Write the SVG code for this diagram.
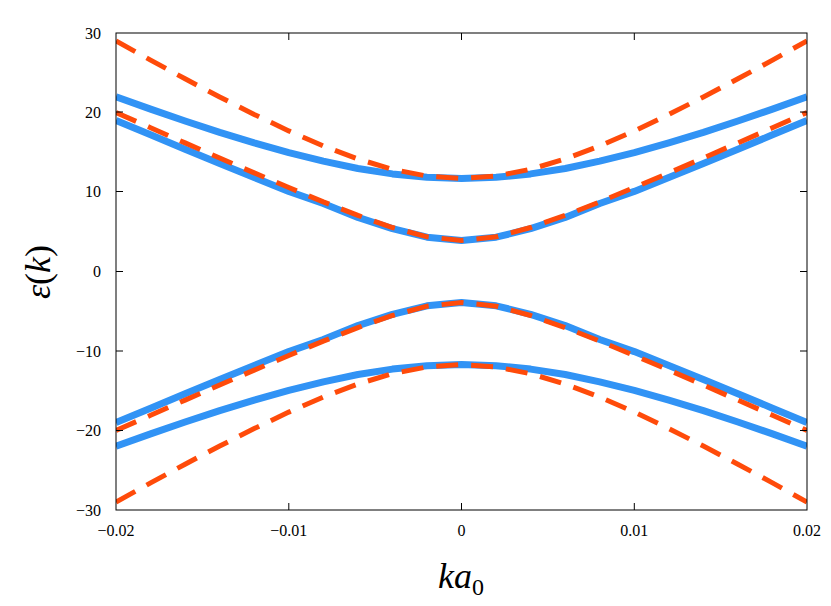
<svg xmlns="http://www.w3.org/2000/svg" width="831" height="606" viewBox="0 0 831 606">
<style>
.tk{font-family:"Liberation Serif",serif;font-size:16px;fill:#000}
.b{fill:none;stroke:#3193f5;stroke-width:7;stroke-linejoin:round}
.r{fill:none;stroke:#ff4b0a;stroke-width:5;stroke-dasharray:22 13}
.ax{stroke:#000;stroke-width:1;fill:none}
</style>
<defs>
<clipPath id="c"><rect x="116" y="33" width="691" height="477"/></clipPath>
<path id="bo" d="M116,96.8 L150.6,109.1 185.1,121 219.7,132.4 254.2,142.9 288.8,152.6 323.3,161.2 357.9,168.5 392.4,173.9 427,177.3 461.5,178.5 496.1,177.3 530.6,173.9 565.2,168.5 599.7,161.2 634.3,152.6 668.8,142.9 703.4,132.4 737.9,121 772.5,109.1 807,96.8"/>
<path id="bi" d="M116,120.4 L150.6,134.8 185.1,149.2 219.7,163.5 254.2,177.5 288.8,191.4 323.3,203.5 357.9,217.4 392.4,228.7 427,237.2 461.5,240.5 496.1,237.2 530.6,228.7 565.2,217.4 599.7,203.5 634.3,191.4 668.8,177.5 703.4,163.5 737.9,149.2 772.5,134.8 807,120.4"/>
<path id="ro" d="M116,40.9 L150.6,60.1 185.1,78.8 219.7,97 254.2,114.4 288.8,130.9 323.3,145.9 357.9,159 392.4,169.3 427,176.1 461.5,178.5 496.1,176.1 530.6,169.3 565.2,159 599.7,145.9 634.3,130.9 668.8,114.4 703.4,97 737.9,78.8 772.5,60.1 807,40.9"/>
<path id="ri" d="M116,112.5 L150.6,127.7 185.1,142.9 219.7,158 254.2,172.9 288.8,187.5 323.3,201.9 357.9,215.4 392.4,227.5 427,236.8 461.5,240.5 496.1,236.8 530.6,227.5 565.2,215.4 599.7,201.9 634.3,187.5 668.8,172.9 703.4,158 737.9,142.9 772.5,127.7 807,112.5"/>
</defs>
<rect width="831" height="606" fill="#fff"/>
<g id="connectors" clip-path="url(#c)">
<use href="#bo" class="b"/><use href="#bi" class="b"/>
<use href="#bo" class="b" transform="translate(0,543) scale(1,-1)"/><use href="#bi" class="b" transform="translate(0,543) scale(1,-1)"/>
<use href="#ro" class="r"/><use href="#ri" class="r"/>
<use href="#ro" class="r" transform="translate(0,543) scale(1,-1)"/><use href="#ri" class="r" transform="translate(0,543) scale(1,-1)"/>
</g>
<g id="axes">
<rect x="116" y="33" width="691" height="477" class="ax"/>
<path class="ax" d="M116,112.0h7M116,191.5h7M116,271.5h7M116,351h7M116,430.5h7M807,112h-7M807,191.5h-7M807,271.5h-7M807,351h-7M807,430.5h-7M288.8,510v-7M461.5,510v-7M634.3,510v-7M288.8,33v7M461.5,33v7M634.3,33v7"/>
<g class="tk" text-anchor="end">
<text x="101" y="39">30</text><text x="101" y="118">20</text><text x="101" y="197">10</text><text x="101" y="277">0</text>
<text x="101" y="357">−10</text><text x="101" y="436">−20</text><text x="101" y="516">−30</text>
</g>
<g class="tk" text-anchor="middle">
<text x="116" y="536">−0.02</text><text x="288.8" y="536">−0.01</text><text x="461.5" y="536">0</text><text x="634.3" y="536">0.01</text><text x="807" y="536">0.02</text>
</g>
<text x="461" y="588" text-anchor="middle" font-family="Liberation Serif,serif" font-size="36" font-style="italic">ka<tspan font-size="24" font-style="normal" dy="7">0</tspan></text>
<text transform="translate(50,272) rotate(-90)" text-anchor="middle" font-family="Liberation Serif,serif" font-size="36"><tspan font-style="italic">ε</tspan>(<tspan font-style="italic">k</tspan>)</text>
</g>
</svg>
